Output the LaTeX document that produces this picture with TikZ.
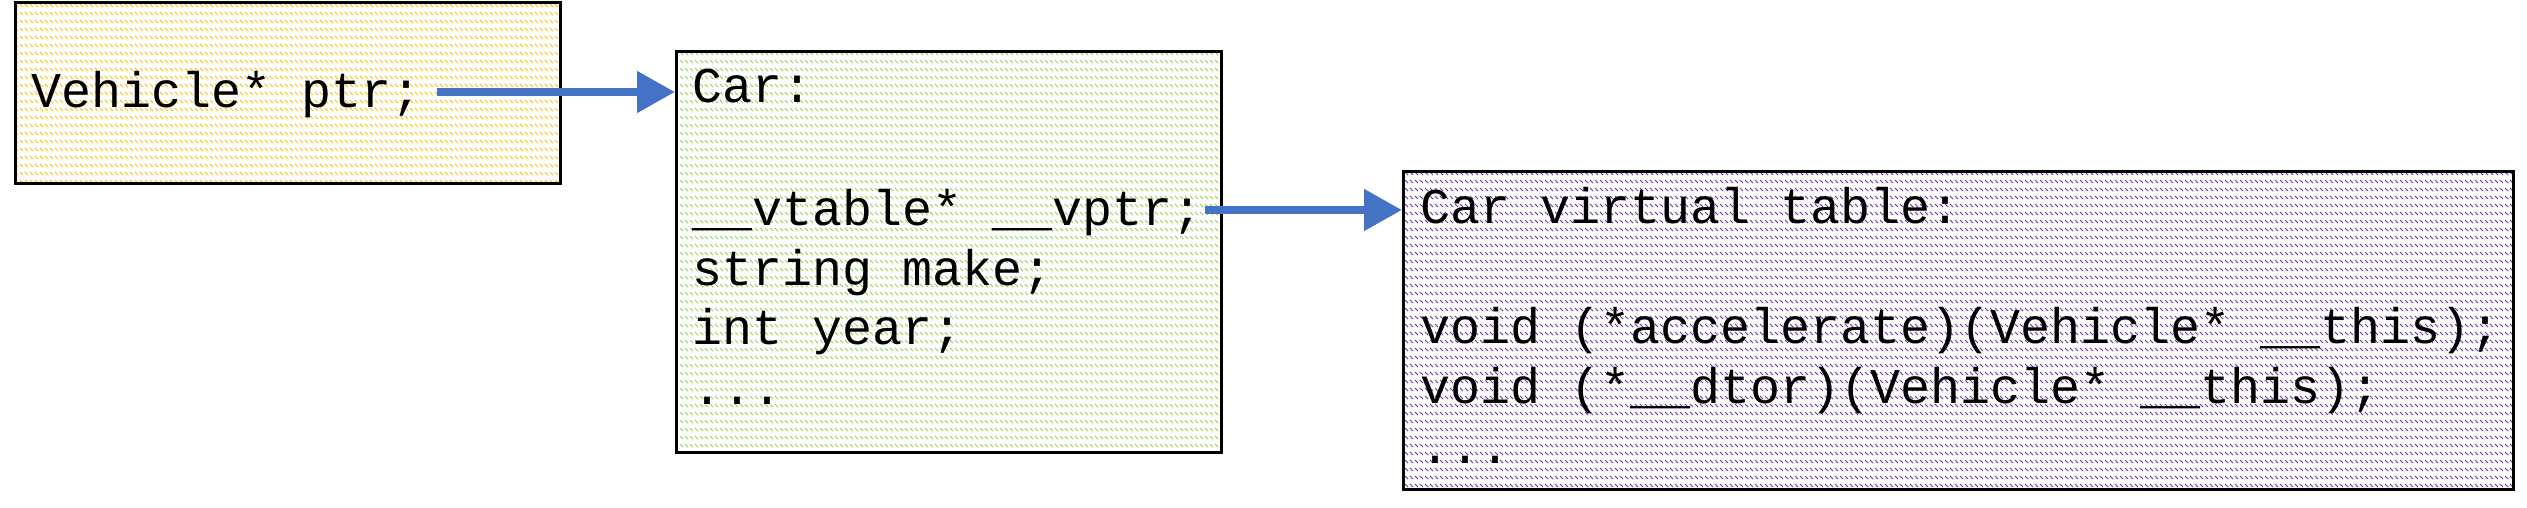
\documentclass[tikz,border=0pt]{standalone}
\usepackage{fontspec}
\usetikzlibrary{arrows.meta,patterns.meta}
\newfontfamily\codefont{Liberation Mono}
\definecolor{hyellow}{HTML}{FFC000}
\definecolor{hgreen}{HTML}{92D050}
\definecolor{hpurple}{HTML}{7030A0}
\definecolor{arrowblue}{HTML}{4472C4}
\tikzdeclarepattern{
  name=dashdiag,
  type=uncolored,
  bottom left={(-1pt,-1pt)},
  top right={(6pt,9pt)},
  tile size={(5pt,8pt)},
  code={\draw[line width=1pt] (0pt,8pt) -- (3pt,5pt);}
}
\tikzset{
  membox/.style={draw=black, line width=3pt, inner sep=0pt, anchor=north west,
    preaction={fill=white}, pattern=dashdiag, pattern color=#1},
  code/.style={inner sep=0pt, anchor=base west, font=\codefont\fontsize{50pt}{60pt}\selectfont},
  ptrarrow/.style={draw=arrowblue, line width=8pt, -{Triangle[length=38pt,width=40pt]}}
}
\begin{document}
\begin{tikzpicture}[x=1pt,y=-1pt]
\useasboundingbox (0,0) rectangle (2527,508);
% boxes
\node[membox=hyellow, minimum width=545pt, minimum height=180pt] (ptrbox) at (14,1.5) {};
\node[membox=hgreen, minimum width=545pt, minimum height=401pt] (carbox) at (675,50) {};
\node[membox=hpurple, minimum width=1110pt, minimum height=318pt] (vtbox) at (1402,170) {};
% texts
\node[code] (ptr) at (31,108) {Vehicle* ptr;};
\node[code] (carA) at (692,103) {Car:};
\node[code] (carB) at (692,225) {\_\_vtable* \_\_vptr;};
\node[code] (carC) at (692,285) {string make;};
\node[code] (carD) at (692,344) {int year;};
\node[code] (carE) at (692,404) {...};
\node[code] (vtA) at (1420,223) {Car virtual table:};
\node[code] (vtB) at (1420,343) {void (*accelerate)(Vehicle* \_\_this);};
\node[code] (vtC) at (1420,403) {void (*\_\_dtor)(Vehicle* \_\_this);};
\node[code] (vtD) at (1420,463) {...};
% arrows
\coordinate (s1) at ([xshift=16pt,yshift=16pt]ptr.base east);
\coordinate (s2) at ([xshift=3pt,yshift=15pt]carB.base east);
\draw[ptrarrow] (s1) -- (s1 -| carbox.west);
\draw[ptrarrow] (s2) -- (s2 -| vtbox.west);
\end{tikzpicture}
\end{document}
